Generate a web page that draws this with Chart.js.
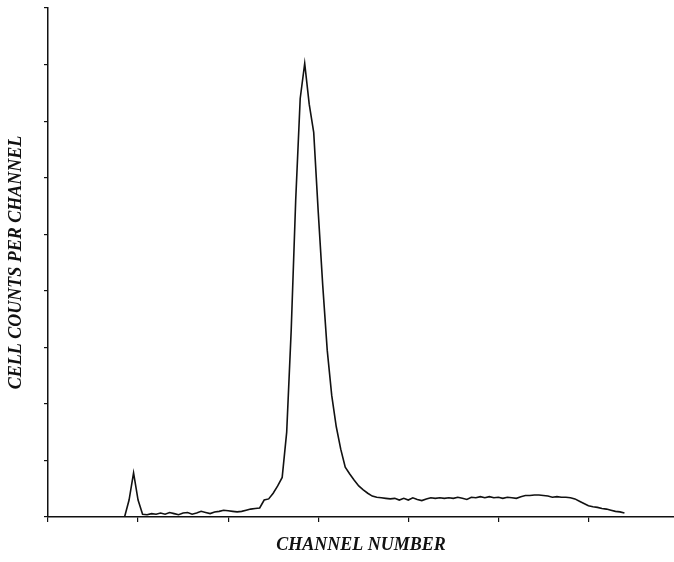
<!DOCTYPE html>
<html>
<head>
<meta charset="utf-8">
<script src="https://cdn.jsdelivr.net/npm/chart.js@4.4.0/dist/chart.umd.min.js"></script>
<style>
  html, body { margin: 0; padding: 0; background: #fff; }
  #wrap { width: 674px; height: 562px; }
</style>
</head>
<body>
<div id="wrap"><canvas id="histo"></canvas></div>
<script>
// cell counts per channel (arbitrary units, y ticks every 1)
var counts = [
  0, 0, 0, 0, 0, 0, 0, 0, 0, 0,
  0, 0, 0, 0, 0, 0, 0, 0, 0.3, 0.78,
  0.3, 0.05, 0.04, 0.06, 0.05, 0.07, 0.05, 0.08, 0.06, 0.04,
  0.07, 0.08, 0.05, 0.07, 0.1, 0.08, 0.06, 0.09, 0.1, 0.12,
  0.11, 0.1, 0.09, 0.1, 0.12, 0.14, 0.15, 0.16, 0.3, 0.32,
  0.42, 0.55, 0.7, 1.5, 3.3, 5.6, 7.4, 8.02, 7.3, 6.8,
  5.4, 4.1, 2.95, 2.15, 1.6, 1.2, 0.88, 0.76, 0.65, 0.55,
  0.48, 0.42, 0.37, 0.35, 0.34, 0.33, 0.32, 0.33, 0.3, 0.33,
  0.3, 0.34, 0.31, 0.29, 0.32, 0.34, 0.33, 0.34, 0.33, 0.34,
  0.33, 0.35, 0.33, 0.31, 0.35, 0.34, 0.36, 0.34, 0.36, 0.34,
  0.35, 0.33, 0.35, 0.34, 0.33, 0.36, 0.38, 0.38, 0.39, 0.39,
  0.38, 0.37, 0.35, 0.36, 0.35, 0.35, 0.34, 0.32, 0.28, 0.24,
  0.2, 0.18, 0.17, 0.15, 0.14, 0.12, 0.1, 0.09, 0.07
];
var channels = counts.map(function (v, i) { return i; });

var xTitle = 'CHANNEL NUMBER';
var yTitle = 'CELL COUNTS PER CHANNEL';

var titleFont = { family: "'Liberation Serif', 'DejaVu Serif', serif", size: 18, style: 'italic', weight: 'bold' };

var histo = document.getElementById('histo').getContext('2d');
var histoChart = new Chart(histo, {
    type: 'line',
    data: {
        datasets: [{
            data: channels.map(function (c, i) { return { x: c, y: counts[i] }; }),
            borderColor: '#111',
            borderWidth: 1.6,
            pointRadius: 0,
            tension: 0,
            fill: false
        }]
    },
    options: {
        responsive: true,
        maintainAspectRatio: false,
        animation: false,
        layout: { padding: { top: 8, right: 0, left: 0, bottom: 0 } },
        plugins: { legend: { display: false }, tooltip: { enabled: false } },
        scales: {
            x: {
                type: 'linear',
                min: 0,
                max: 139,
                border: { color: '#111', width: 1.5 },
                grid: { drawOnChartArea: false, drawTicks: true, tickLength: 5, color: '#111', lineWidth: 1.2 },
                ticks: { display: false, stepSize: 20, includeBounds: false },
                title: { display: true, text: xTitle, color: '#111', font: titleFont, padding: { top: 6, bottom: 6 } },
                afterFit: function (scale) { scale.height = 45; }
            },
            y: {
                min: 0,
                max: 9,
                border: { color: '#111', width: 1.5 },
                grid: { drawOnChartArea: false, drawTicks: true, tickLength: 4, color: '#111', lineWidth: 1.2 },
                ticks: { display: false, stepSize: 1 },
                title: { display: true, text: yTitle, color: '#111', font: titleFont, padding: { top: 6, bottom: 6 } },
                afterFit: function (scale) { scale.width = 48; }
            }
        }
    }
});
</script>
</body>
</html>
